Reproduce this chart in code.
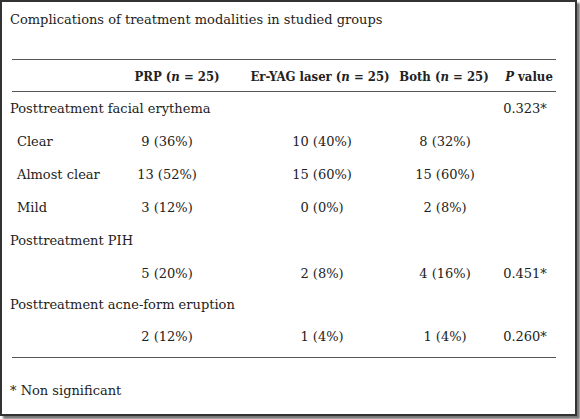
<!DOCTYPE html>
<html><head><meta charset="utf-8">
<script src="https://cdn.jsdelivr.net/npm/chart.js"></script>
<style>
html,body{margin:0;padding:0;background:#fff;}
#frame{position:absolute;left:0;top:0;width:573px;height:412px;border:2px solid #333;box-shadow:3px 3px 2px #777;background:#fff;font-family:"DejaVu Serif","Liberation Serif",serif;font-size:13px;color:#222;}
.t{position:absolute;white-space:nowrap;line-height:16px;}
.c{transform:translateX(-50%);}
.h{font-family:"DejaVu Serif Condensed","DejaVu Serif",serif;font-weight:bold;}
.hl{position:absolute;left:10px;width:544px;height:1px;background:#555;}
</style></head><body>
<div id="frame"></div>
<script>
const title="Complications of treatment modalities in studied groups";
const headers=["PRP (<i>n</i> = 25)","Er-YAG laser (<i>n</i> = 25)","Both (<i>n</i> = 25)","<i>P</i> value"];
const rowLabels=["Posttreatment facial erythema"," Clear"," Almost clear"," Mild","Posttreatment PIH","","Posttreatment acne-form eruption",""];
const prp=["","9 (36%)","13 (52%)","3 (12%)","","5 (20%)","","2 (12%)"];
const yag=["","10 (40%)","15 (60%)","0 (0%)","","2 (8%)","","1 (4%)"];
const both=["","8 (32%)","15 (60%)","2 (8%)","","4 (16%)","","1 (4%)"];
const pval=["0.323*","","","","","0.451*","","0.260*"];
const footnote="* Non significant";
const f=document.getElementById('frame');
function add(txt,x,y,cls){const d=document.createElement('div');d.className='t '+(cls||'');d.style.left=x+'px';d.style.top=y+'px';d.innerHTML=txt;f.appendChild(d);}
add(title,8,10);
[57,89,355].forEach(y=>{const l=document.createElement('div');l.className='hl';l.style.top=y+'px';f.appendChild(l);});
const hx=[175,318,442,527];
headers.forEach((h,i)=>add(h,hx[i],67,'c h'));
const cx=[165,320,443,523];
const ys=[99,132,165,198,231,264,295,327];
rowLabels.forEach((r,i)=>{if(r)add(r.trim(),r.startsWith(' ')?15:8,ys[i]);
 [prp,yag,both,pval].forEach((a,j)=>{if(a[i])add(a[i],cx[j],ys[i],'c');});});
add(footnote,8,381);
</script>
</body></html>
